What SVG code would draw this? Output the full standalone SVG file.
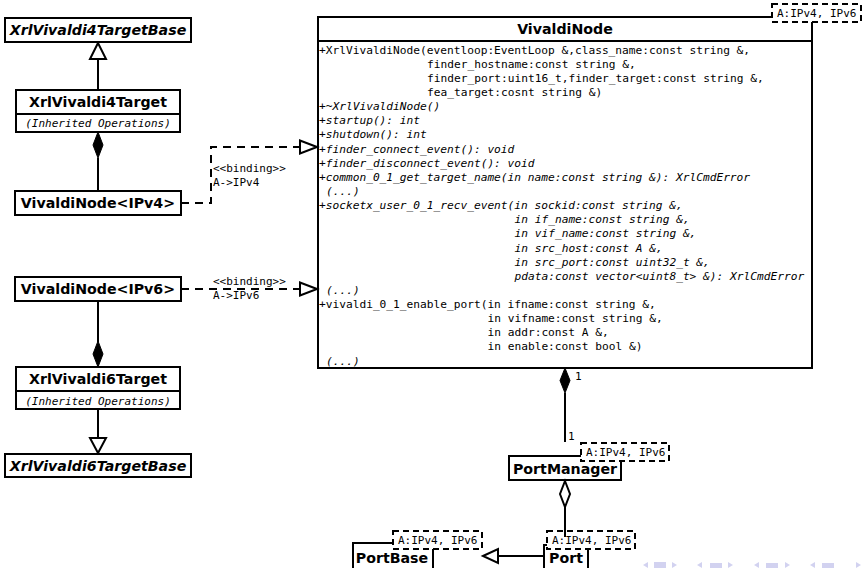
<svg xmlns="http://www.w3.org/2000/svg" width="863" height="568" viewBox="0 0 863 568">
  <style>
    .box { fill: #fff; stroke: #000; stroke-width: 2; }
    .tmpl { fill: #fff; stroke: #000; stroke-width: 2; stroke-dasharray: 6 4; }
    .line { fill: none; stroke: #000; stroke-width: 2; }
    .dash { fill: none; stroke: #000; stroke-width: 2; stroke-dasharray: 8 6; }
    .hollow { fill: #fff; stroke: #000; stroke-width: 2; }
    .solid { fill: #000; stroke: #000; stroke-width: 1; }
    .title { font-family: "DejaVu Sans", sans-serif; font-weight: bold; font-size: 14.2px; text-anchor: middle; fill: #000; }
    .abstract { font-style: italic; }
    .mono { font-family: "DejaVu Sans Mono", monospace; font-size: 11.2px; fill: #000; }
    .lbl { font-family: "DejaVu Sans Mono", monospace; font-size: 11px; fill: #000; }
    .it { font-style: italic; }
    .nav { fill: #d2d2f0; }
  </style>

  <!-- left column: IPv4 binding -->
  <g id="XrlVivaldi4TargetBase">
    <rect class="box" x="5" y="18" width="186" height="24"/>
    <text class="title abstract" x="98" y="35">XrlVivaldi4TargetBase</text>
  </g>
  <g id="XrlVivaldi4Target">
    <rect class="box" x="16" y="90" width="164" height="42"/>
    <line class="line" x1="16" y1="114" x2="180" y2="114"/>
    <text class="title" x="98" y="107">XrlVivaldi4Target</text>
    <text class="lbl it" x="98" y="127" text-anchor="middle">(Inherited Operations)</text>
  </g>
  <g id="VivaldiNodeIPv4">
    <rect class="box" x="15" y="191" width="166" height="24"/>
    <text class="title" x="98" y="208">VivaldiNode&lt;IPv4&gt;</text>
  </g>

  <!-- left column: IPv6 binding -->
  <g id="VivaldiNodeIPv6">
    <rect class="box" x="15" y="277" width="166" height="24"/>
    <text class="title" x="98" y="294">VivaldiNode&lt;IPv6&gt;</text>
  </g>
  <g id="XrlVivaldi6Target">
    <rect class="box" x="16" y="367" width="164" height="42"/>
    <line class="line" x1="16" y1="391" x2="180" y2="391"/>
    <text class="title" x="98" y="384">XrlVivaldi6Target</text>
    <text class="lbl it" x="98" y="405" text-anchor="middle">(Inherited Operations)</text>
  </g>
  <g id="XrlVivaldi6TargetBase">
    <rect class="box" x="5" y="454" width="186" height="23"/>
    <text class="title abstract" x="98" y="471">XrlVivaldi6TargetBase</text>
  </g>

  <!-- VivaldiNode class: name, then wrapped operation list -->
  <g id="VivaldiNode">
    <rect class="box" x="318" y="17" width="494" height="351"/>
    <line class="line" x1="318" y1="41" x2="812" y2="41"/>
    <text class="title" x="565" y="34">VivaldiNode</text>
    <g class="mono">
      <text x="319" y="53.5">+XrlVivaldiNode(eventloop:EventLoop &amp;,class_name:const string &amp;,</text>
      <text x="427" y="67.6">finder_hostname:const string &amp;,</text>
      <text x="427" y="81.8">finder_port:uint16_t,finder_target:const string &amp;,</text>
      <text x="427" y="95.9">fea_target:cosnt string &amp;)</text>
      <text class="it" x="319" y="110.1">+~XrlVivaldiNode()</text>
      <text class="it" x="319" y="124.2">+startup(): int</text>
      <text class="it" x="319" y="138.3">+shutdown(): int</text>
      <text class="it" x="319" y="152.5">+finder_connect_event(): void</text>
      <text class="it" x="319" y="166.6">+finder_disconnect_event(): void</text>
      <text class="it" x="319" y="180.8">+common_0_1_get_target_name(in name:const string &amp;): XrlCmdError</text>
      <text class="it" x="326" y="194.9">(...)</text>
      <text class="it" x="319" y="209.0">+socketx_user_0_1_recv_event(in sockid:const string &amp;,</text>
      <text class="it" x="514.5" y="223.2">in if_name:const string &amp;,</text>
      <text class="it" x="514.5" y="237.3">in vif_name:const string &amp;,</text>
      <text class="it" x="514.5" y="251.5">in src_host:const A &amp;,</text>
      <text class="it" x="514.5" y="265.6">in src_port:const uint32_t &amp;,</text>
      <text class="it" x="514.5" y="279.7">pdata:const vector&lt;uint8_t&gt; &amp;): XrlCmdError</text>
      <text class="it" x="326" y="293.9">(...)</text>
      <text x="319" y="308.0">+vivaldi_0_1_enable_port(in ifname:const string &amp;,</text>
      <text x="487.5" y="322.2">in vifname:const string &amp;,</text>
      <text x="487.5" y="336.3">in addr:const A &amp;,</text>
      <text x="487.5" y="350.4">in enable:const bool &amp;)</text>
      <text class="it" x="326" y="364.6">(...)</text>
    </g>
    <rect class="tmpl" x="772" y="4" width="89" height="18"/>
    <text class="lbl" x="777" y="17">A:IPv4, IPv6</text>
  </g>

  <!-- PortManager class -->
  <g id="PortManager">
    <rect class="box" x="509" y="456" width="112" height="24"/>
    <text class="title" x="565" y="474">PortManager</text>
    <rect class="tmpl" x="581" y="443" width="88" height="18"/>
    <text class="lbl" x="586" y="456">A:IPv4, IPv6</text>
  </g>

  <!-- PortBase class -->
  <g id="PortBase">
    <rect class="box" x="353" y="543" width="80" height="32"/>
    <text class="title" x="392" y="563">PortBase</text>
    <rect class="tmpl" x="393" y="531" width="89" height="18"/>
    <text class="lbl" x="398" y="544">A:IPv4, IPv6</text>
  </g>

  <!-- Port class -->
  <g id="Port">
    <rect class="box" x="544" y="545" width="44" height="30"/>
    <text class="title" x="566" y="563">Port</text>
    <rect class="tmpl" x="547" y="531" width="88" height="18"/>
    <text class="lbl" x="552" y="544">A:IPv4, IPv6</text>
  </g>

  <!-- connectors -->
  <g id="connectors">
    <!-- generalization XrlVivaldi4Target -> XrlVivaldi4TargetBase -->
    <line class="line" x1="98" y1="59" x2="98" y2="90"/>
    <polygon class="hollow" points="98,43 90,59 106,59"/>
    <!-- composition XrlVivaldi4Target <>- VivaldiNode<IPv4> -->
    <line class="line" x1="98" y1="158" x2="98" y2="191"/>
    <polygon class="solid" points="98,132 103,145 98,158 93,145"/>
    <!-- binding VivaldiNode<IPv4> -> VivaldiNode -->
    <polyline class="dash" points="181,203 211,203 211,147 300,147"/>
    <polygon class="hollow" points="317,147 300,140.5 300,153.5"/>
    <text class="lbl" x="213" y="172">&lt;&lt;binding&gt;&gt;</text>
    <text class="lbl" x="213" y="186">A-&gt;IPv4</text>
    <!-- binding VivaldiNode<IPv6> -> VivaldiNode -->
    <line class="dash" x1="181" y1="289" x2="300" y2="289"/>
    <polygon class="hollow" points="317,289 300,282.5 300,295.5"/>
    <text class="lbl" x="213" y="285">&lt;&lt;binding&gt;&gt;</text>
    <text class="lbl" x="213" y="299">A-&gt;IPv6</text>
    <!-- composition XrlVivaldi6Target <>- VivaldiNode<IPv6> -->
    <line class="line" x1="98" y1="301" x2="98" y2="342"/>
    <polygon class="solid" points="98,341 103,354 98,367 93,354"/>
    <!-- generalization XrlVivaldi6Target -> XrlVivaldi6TargetBase -->
    <line class="line" x1="98" y1="409" x2="98" y2="438"/>
    <polygon class="hollow" points="98,453 90,438 106,438"/>
    <!-- composition VivaldiNode <>- PortManager -->
    <line class="line" x1="565" y1="393" x2="565" y2="442"/>
    <polygon class="solid" points="565,368 570,380.5 565,393 560,380.5"/>
    <text class="lbl" x="575" y="380">1</text>
    <text class="lbl" x="568" y="440">1</text>
    <!-- aggregation PortManager <>- Port -->
    <line class="line" x1="565" y1="507" x2="565" y2="537"/>
    <polygon class="hollow" points="565,481 570,494 565,507 560,494"/>
    <!-- generalization Port -> PortBase -->
    <line class="line" x1="498" y1="556" x2="544" y2="556"/>
    <polygon class="hollow" points="483,556 498,549 498,563"/>
  </g>

  <!-- slide navigation symbols -->
  <g id="navigation">
    <polygon class="nav" points="643,565 648,562 648,568"/>
    <rect class="nav" x="654" y="562" width="12" height="6"/>
    <polygon class="nav" points="677,565 672,562 672,568"/>
    <polygon class="nav" points="697,565 702,562 702,568"/>
    <rect class="nav" x="710" y="563" width="12" height="5"/>
    <polygon class="nav" points="733,565 728,562 728,568"/>
    <polygon class="nav" points="754,565 759,562 759,568"/>
    <rect class="nav" x="766" y="563" width="12" height="5"/>
    <polygon class="nav" points="790,565 785,562 785,568"/>
    <polygon class="nav" points="810,565 815,562 815,568"/>
    <rect class="nav" x="822" y="563" width="12" height="5"/>
    <polygon class="nav" points="861,565 856,562 856,568"/>
  </g>
</svg>
